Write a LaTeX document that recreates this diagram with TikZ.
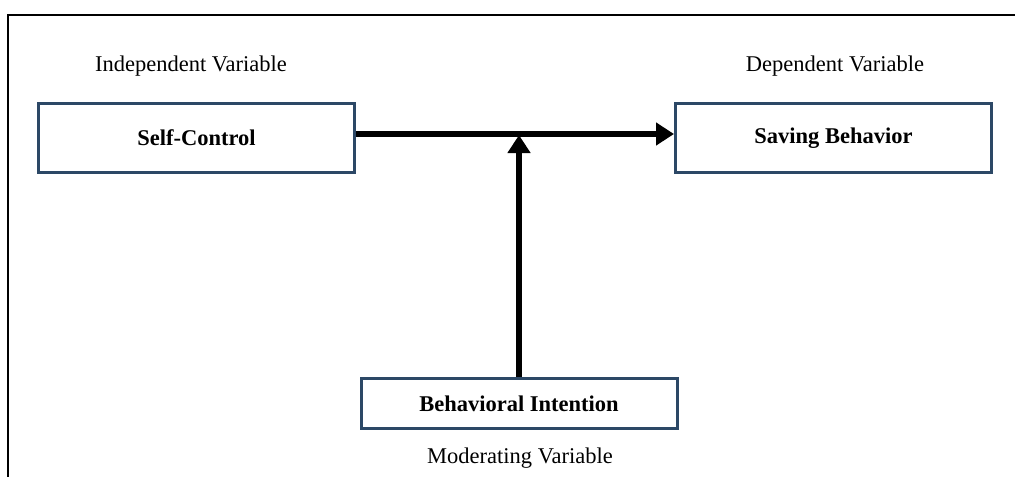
\documentclass[tikz,border=0pt]{standalone}
\usepackage{fontspec}
\setmainfont{Liberation Serif}
\usetikzlibrary{arrows.meta}
\definecolor{bordure}{RGB}{44,72,102}
\begin{document}
\begin{tikzpicture}[x=1pt,y=-1pt]
	\tikzstyle{fleche}=[-{Triangle[length=18pt,width=22pt]},line width=6pt]
	\tikzstyle{boite}=[draw=bordure,line width=3pt,minimum width=316pt,font=\fontsize{22.5}{26}\selectfont\bfseries]
	\tikzstyle{legende}=[font=\fontsize{22.5}{26}\selectfont]
	\def\NiveauLegende{66}
	\def\NiveauHaut{138}
	\def\NiveauBas{403.5}
	\def\NiveauLegendeBas{458}
	\useasboundingbox (0,0) rectangle (1015,477);
	\draw[line width=1.2pt] (1015,15) -- (8,15) -- (8,477);
	\node[boite,minimum height=69pt] (Ind) at (196.5,\NiveauHaut) {Self-Control};
	\node[boite,minimum height=69pt] (Dep) at (833.5,\NiveauHaut) {Saving Behavior};
	\node[boite,minimum height=50pt] (Mod) at (519,\NiveauBas) {Behavioral Intention};
	\node[legende] (IndLeg) at (191,\NiveauLegende) {Independent Variable};
	\node[legende] (DepLeg) at (835,\NiveauLegende) {Dependent Variable};
	\node[legende] (ModLeg) at (520,\NiveauLegendeBas) {Moderating Variable};
	\coordinate (Jonction) at (Mod.north |- Dep.west);
	\draw[fleche] ([yshift=4pt]Ind.east) -- ([yshift=4pt]Dep.west);
	\draw[fleche] (Mod.north) -- ([yshift=3pt]Jonction);
\end{tikzpicture}
\end{document}
